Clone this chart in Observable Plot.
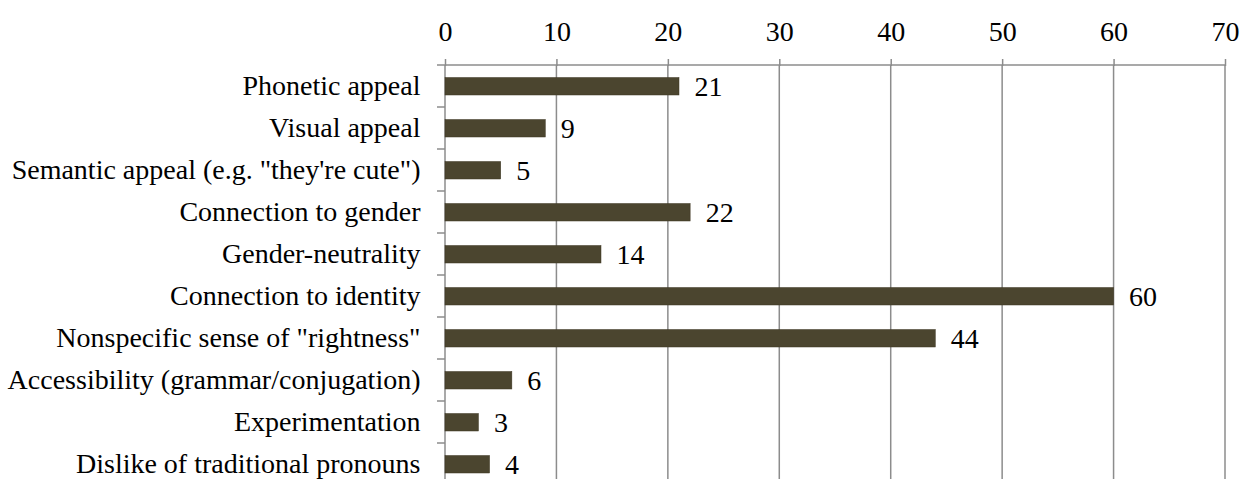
<!DOCTYPE html>
<html>
<head>
<meta charset="utf-8">
<script src="https://cdn.jsdelivr.net/npm/d3@7"></script>
<script src="https://cdn.jsdelivr.net/npm/@observablehq/plot@0.6"></script>
<style>
  html, body { margin: 0; padding: 0; background: #fff; }
  #chart svg { display: block; }
</style>
</head>
<body>
<div id="chart"></div>
<script>
const categories = [
  "Phonetic appeal",
  "Visual appeal",
  "Semantic appeal (e.g. \"they're cute\")",
  "Connection to gender",
  "Gender-neutrality",
  "Connection to identity",
  "Nonspecific sense of \"rightness\"",
  "Accessibility (grammar/conjugation)",
  "Experimentation",
  "Dislike of traditional pronouns"
];
const values = [21, 9, 5, 22, 14, 60, 44, 6, 3, 4];
const xTicks = [0, 10, 20, 30, 40, 50, 60, 70];

const data = categories.map((c, i) => ({category: c, value: values[i]}));
const gray = "#8c8c8c";
const FS = 28;

const frameMark = (index, scales, vals, dims, context) => {
  const g = d3.create("svg:g");
  const y = scales.y, x = scales.x;
  const x0 = x(0);
  const top = dims.marginTop, bottom = dims.height;
  // vertical grid lines at each tick
  xTicks.forEach(t => {
    g.append("line").attr("x1", x(t)).attr("x2", x(t)).attr("y1", top).attr("y2", bottom)
      .attr("stroke", gray).attr("stroke-width", 1.5);
  });
  g.append("line").attr("x1", x0 - 8).attr("x2", x(70)).attr("y1", top).attr("y2", top)
    .attr("stroke", gray).attr("stroke-width", 1.5);
  categories.slice(1).forEach(c => {
    const yy = y(c);
    g.append("line").attr("x1", x0 - 8).attr("x2", x0).attr("y1", yy).attr("y2", yy)
      .attr("stroke", gray).attr("stroke-width", 1.5);
  });
  return g.node();
};

const chart = Plot.plot({
  width: 1243,
  height: 479,
  marginTop: 65,
  marginLeft: 445,
  marginRight: 18,
  marginBottom: -6,
  style: {fontFamily: "'Liberation Serif', 'Times New Roman', serif", fontSize: FS + "px", color: "#000", background: "#fff"},
  x: {domain: [0, 70], axis: null},
  y: {domain: categories, padding: 0, axis: null},
  marks: [
    frameMark,
    Plot.axisX(xTicks, {anchor: "top", tickSize: 7, tickPadding: 18, stroke: gray, strokeWidth: 1.5, strokeOpacity: 1, fontSize: FS, fill: "#000", label: null}),
    Plot.axisY({anchor: "left", tickSize: 0, tickPadding: 25, fontSize: FS, fill: "#000", label: null}),
    Plot.barX(data, {x: "value", y: "category", fill: "#4b452f", insetTop: 12.5, insetBottom: 12, stroke: "#3d3623", strokeWidth: 0.5}),
    Plot.text(data, {x: "value", y: "category", text: d => String(d.value), textAnchor: "start", dx: 15, dy: 1, fontSize: FS, fill: "#000"})
  ]
});
document.getElementById("chart").appendChild(chart);
</script>
</body>
</html>
